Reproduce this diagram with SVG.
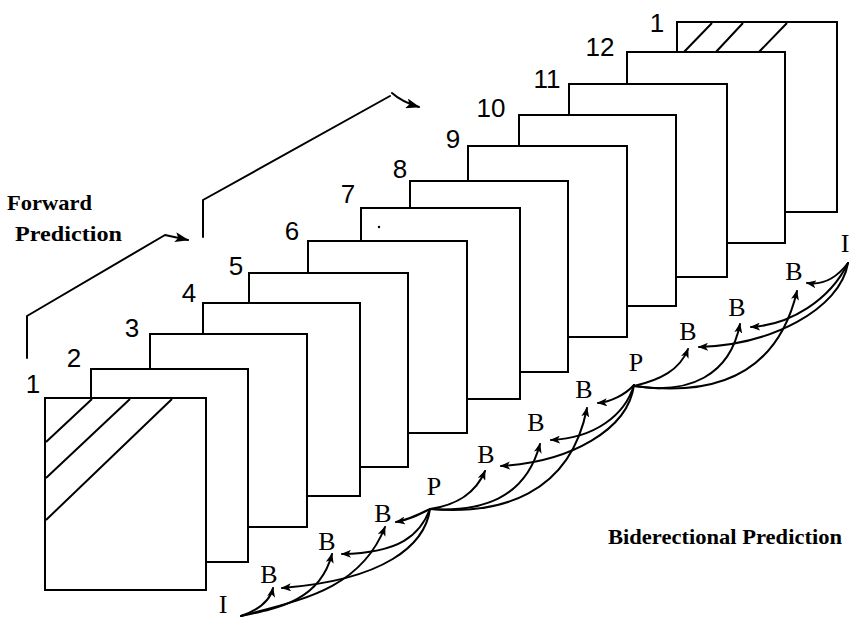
<svg xmlns="http://www.w3.org/2000/svg" width="851" height="618" viewBox="0 0 851 618">
<defs>
<style>
.fr{fill:#fff;stroke:#000;stroke-width:2}
.ht{stroke:#000;stroke-width:2;fill:none}
.num{font-family:"Liberation Sans",Arial,sans-serif;font-size:26px;fill:#000;text-anchor:middle}
.lb{font-family:"Liberation Serif","Times New Roman",serif;font-size:26px;fill:#000;text-anchor:middle}
.ttl{font-family:"Liberation Serif","Times New Roman",serif;font-weight:bold;font-size:22px;fill:#000}
.cn{fill:none;stroke:#000;stroke-width:2;stroke-linecap:round;stroke-linejoin:round}
.ca{marker-end:url(#ah)}
.fa{marker-end:url(#fah)}
</style>
<marker id="ah" viewBox="0 0 10 8" refX="9" refY="4" markerWidth="10" markerHeight="8" markerUnits="userSpaceOnUse" orient="auto"><path d="M0,0 L10,4 L0,8 L2.5,4 Z" fill="#000"/></marker>
<marker id="fah" viewBox="0 0 14 10" refX="13" refY="5" markerWidth="14" markerHeight="10" markerUnits="userSpaceOnUse" orient="auto"><path d="M0,0 L14,5 L0,10 L3,5 Z" fill="#000"/></marker>
</defs>
<rect width="851" height="618" fill="#fff"/>

<g id="frame-13">
<rect class="fr" x="677" y="22" width="160" height="190"/>
<path class="ht" d="M683,53 L712,23 M715,53 L743,23 M758,53 L787,23"/>
<text class="num" x="657" y="32">1</text>
</g>
<g id="frame-12"><rect class="fr" x="627" y="52" width="158" height="191"/><text class="num" x="600" y="56">12</text></g>
<g id="frame-11"><rect class="fr" x="569" y="84" width="158" height="193"/><text class="num" x="547" y="88">11</text></g>
<g id="frame-10"><rect class="fr" x="519" y="115" width="157" height="191"/><text class="num" x="491" y="117">10</text></g>
<g id="frame-9"><rect class="fr" x="468" y="146" width="159" height="191"/><text class="num" x="453" y="148">9</text><path d="M498,360 L503,357" stroke="#000" stroke-width="1.5"/></g>
<g id="frame-8"><rect class="fr" x="410" y="181" width="158" height="191"/><text class="num" x="400" y="178">8</text></g>
<g id="frame-7"><rect class="fr" x="361" y="208" width="159" height="191"/><text class="num" x="348" y="203">7</text><circle cx="379" cy="227" r="1.2" fill="#000"/></g>
<g id="frame-6"><rect class="fr" x="308" y="241" width="159" height="192"/><text class="num" x="292" y="240">6</text></g>
<g id="frame-5"><rect class="fr" x="249" y="273" width="159" height="194"/><text class="num" x="236" y="275">5</text></g>
<g id="frame-4"><rect class="fr" x="203" y="303" width="157" height="193"/><text class="num" x="189" y="302">4</text></g>
<g id="frame-3"><rect class="fr" x="150" y="334" width="157" height="193"/><text class="num" x="132" y="337">3</text></g>
<g id="frame-2"><rect class="fr" x="91" y="369" width="157" height="193"/><text class="num" x="74" y="367">2</text></g>
<g id="frame-1">
<rect class="fr" x="45" y="398" width="161" height="192"/>
<path class="ht" d="M92,399 L46,442 M130,399 L46,478 M172,399 L46,520"/>
<text class="num" x="33" y="393">1</text>
</g>

<g id="forward-label"><text class="ttl" x="7" y="210" textLength="85" lengthAdjust="spacingAndGlyphs">Forward</text><text class="ttl" x="15" y="241" textLength="107" lengthAdjust="spacingAndGlyphs">Prediction</text></g>
<g id="bidirectional-label"><text class="ttl" x="608" y="544" textLength="234" lengthAdjust="spacingAndGlyphs">Biderectional Prediction</text></g>

<g id="lbl-I1"><text class="lb" x="223" y="613">I</text></g>
<g id="lbl-B1"><text class="lb" x="269" y="583">B</text></g>
<g id="lbl-B2"><text class="lb" x="327" y="550">B</text></g>
<g id="lbl-B3"><text class="lb" x="383" y="522">B</text></g>
<g id="lbl-P1"><text class="lb" x="434" y="495">P</text></g>
<g id="lbl-B4"><text class="lb" x="486" y="463">B</text></g>
<g id="lbl-B5"><text class="lb" x="536" y="431">B</text></g>
<g id="lbl-B6"><text class="lb" x="584" y="398">B</text></g>
<g id="lbl-P2"><text class="lb" x="636" y="371">P</text></g>
<g id="lbl-B7"><text class="lb" x="688" y="340">B</text></g>
<g id="lbl-B8"><text class="lb" x="737" y="316">B</text></g>
<g id="lbl-B9"><text class="lb" x="794" y="280">B</text></g>
<g id="lbl-I2"><text class="lb" x="845" y="252">I</text></g>

<g id="connectors">
<path class="cn fa" d="M27,358 L27,316 L165,235 L188,240"/>
<path class="cn" d="M203,237 L203,200 L390,96"/>
<path class="cn fa" d="M392,93 Q402,102 419,107"/>

<path class="cn ca" d="M241,616 C258,610 270,602 273,588"/>
<path class="cn ca" d="M241,616 C280,608 320,600 332,554"/>
<path class="cn ca" d="M241,616 C300,600 360,590 385,527"/>
<path class="cn ca" d="M430,509 C418,515 408,520 396,522"/>
<path class="cn ca" d="M430,509 C420,535 400,553 342,554"/>
<path class="cn ca" d="M430,509 C425,545 385,580 282,588"/>

<path class="cn ca" d="M430,509 C455,505 475,495 485,471"/>
<path class="cn ca" d="M430,509 C480,512 525,500 540,444"/>
<path class="cn ca" d="M430,509 C500,515 570,495 587,408"/>
<path class="cn ca" d="M634,385 C625,395 610,402 598,403"/>
<path class="cn ca" d="M634,385 C625,415 595,438 551,440"/>
<path class="cn ca" d="M634,385 C628,430 570,462 501,466"/>

<path class="cn ca" d="M634,386 C660,380 680,370 688,349"/>
<path class="cn ca" d="M634,386 C690,395 730,375 740,324"/>
<path class="cn ca" d="M634,386 C700,395 775,385 797,291"/>
<path class="cn ca" d="M848,263 C835,280 820,285 807,283"/>
<path class="cn ca" d="M848,263 C830,300 790,325 751,327"/>
<path class="cn ca" d="M848,263 C840,310 770,345 699,347"/>
</g>
</svg>
